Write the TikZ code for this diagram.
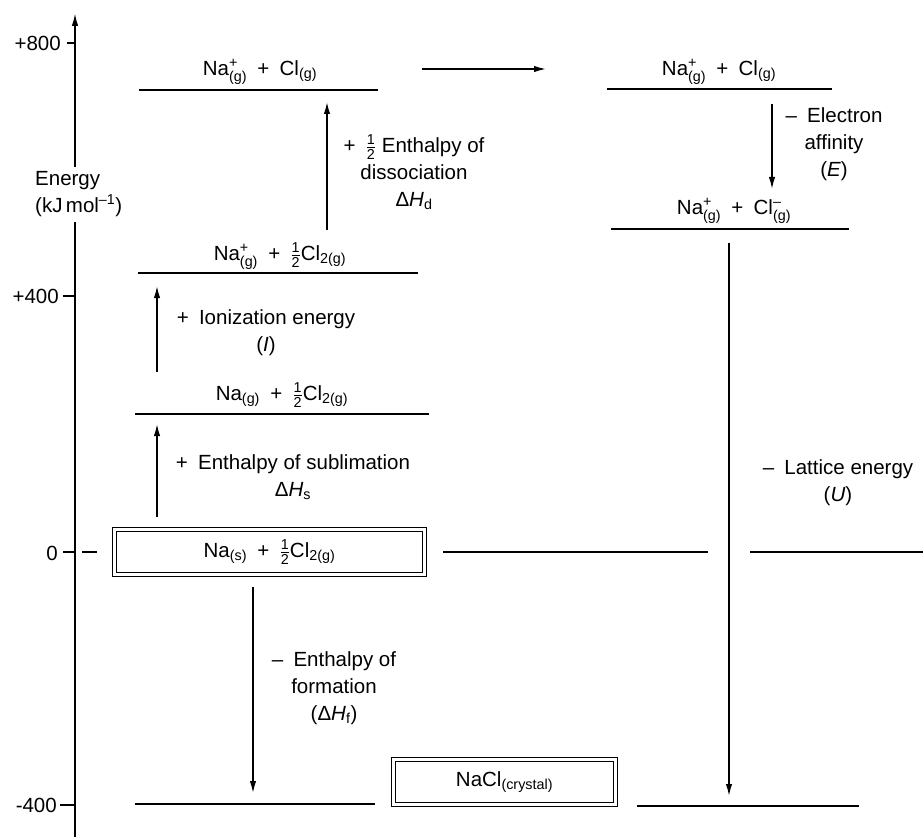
\documentclass[tikz,border=0pt]{standalone}
\usepackage{amsmath}
\usepackage{fontspec}
\setmainfont{Liberation Sans}
\usetikzlibrary{arrows.meta}
\newcommand{\hf}{\tfrac{\text{1}}{\text{2}}}
\newcommand{\gs}[1]{$_{\text{#1}}$}
\newcommand{\ionp}{$^{\text{+}}_{\text{(g)}}$}
\newcommand{\ionm}{$^{\text{--}}_{\text{(g)}}$}
\newcommand{\pl}{\enspace+\enspace}
\begin{document}
\begin{tikzpicture}[x=1pt,y=-1pt,
  every node/.style={font=\fontsize{20.5}{27}\selectfont, inner sep=0pt, align=center},
  level/.style={line width=1.8pt},
  arr/.style={line width=1.6pt, -{Latex[length=12pt,width=6.5pt]}},
  axisline/.style={line width=1.8pt},
  box/.style={draw, line width=1.2pt, double, double distance=2.5pt, inner sep=0pt}]
\useasboundingbox (0,0) rectangle (923,837);
\fill[white] (0,0) rectangle (923,837);

% axis
\coordinate (ax0) at (75,13);
\coordinate (ax1) at (75,167);
\coordinate (ax2) at (75,222);
\coordinate (ax3) at (75,837);
\draw[axisline, -{Latex[length=13pt,width=6.5pt]}] (ax1) -- (ax0);
\draw[axisline] (ax2) -- (ax3);
\node[anchor=west, align=left] (elab) at (35,194) {Energy\\(kJ\,mol$^{\text{--1}}$)};

% ticks
\coordinate (t8a) at (67,43); \coordinate (t8b) at (75,43);
\coordinate (t4a) at (63,296); \coordinate (t4b) at (75,296);
\coordinate (t0a) at (63,552); \coordinate (t0b) at (75,552);
\coordinate (tma) at (60,805); \coordinate (tmb) at (75,805);
\draw[axisline] (t8a) -- (t8b);
\draw[axisline] (t4a) -- (t4b);
\draw[axisline] (t0a) -- (t0b);
\draw[axisline] (tma) -- (tmb);
\node[anchor=east] (n800) at (61,43) {+800};
\node[anchor=east] (n400) at (59,296) {+400};
\node[anchor=east] (n0) at (58,553) {0};
\node[anchor=east] (nm400) at (57,805) {-400};

% level 1 left: Na+ + Cl
\coordinate (l1a) at (139,90); \coordinate (l1b) at (378,90);
\draw[level] (l1a) -- (l1b);
\node (L1) at (260,72) {Na\ionp\pl Cl\gs{(g)}};

% level 1 right
\coordinate (r1a) at (607,89); \coordinate (r1b) at (832,89);
\draw[level] (r1a) -- (r1b);
\node (R1) at (719,72) {Na\ionp\pl Cl\gs{(g)}};

% horizontal arrow
\coordinate (h1) at (422,69); \coordinate (h2) at (546,69);
\draw[arr] (h1) -- (h2);

% level 2 right: Na+ + Cl-
\coordinate (r2a) at (611,229); \coordinate (r2b) at (849,229);
\draw[level] (r2a) -- (r2b);
\node (R2) at (734,211) {Na\ionp\pl Cl\ionm};

% electron affinity
\coordinate (ea1) at (772,104); \coordinate (ea2) at (772,189);
\draw[arr] (ea1) -- (ea2);
\node (EA) at (834,144) {--\enspace Electron\\affinity\\(\textit{E})};

% level 2 left: Na+ + 1/2 Cl2
\coordinate (l2a) at (138,273); \coordinate (l2b) at (418,273);
\draw[level] (l2a) -- (l2b);
\node (L2) at (280,256) {Na\ionp\pl$\hf$Cl\gs{2(g)}};

% dissociation
\coordinate (d1) at (327,230); \coordinate (d2) at (327,102);
\draw[arr] (d1) -- (d2);
\node (DIS) at (414,172) {+\enspace$\hf$ Enthalpy of\\dissociation\\Δ\textit{H}\gs{d}};

% ionization
\coordinate (i1) at (157,372); \coordinate (i2) at (157,286);
\draw[arr] (i1) -- (i2);
\node (ION) at (266,333) {+\enspace Ionization energy\\(\textit{I})};

% level 3: Na(g) + 1/2 Cl2
\coordinate (l3a) at (135,414); \coordinate (l3b) at (429,414);
\draw[level] (l3a) -- (l3b);
\node (L3) at (282,395) {Na\gs{(g)}\pl$\hf$Cl\gs{2(g)}};

% sublimation
\coordinate (s1) at (157,517); \coordinate (s2) at (157,424);
\draw[arr] (s1) -- (s2);
\node (SUB) at (293,477) {+\enspace Enthalpy of sublimation\\Δ\textit{H}\gs{s}};

% zero-level box
\node[box, minimum width=310pt, minimum height=45pt] (B0) at (269.5,552) {Na\gs{(s)}\pl$\hf$Cl\gs{2(g)}};
\coordinate (z1) at (82,552); \coordinate (z2) at (97,552);
\draw[axisline] (z1) -- (z2);
\coordinate (z3) at (443,552); \coordinate (z4) at (708,552);
\draw[level] (z3) -- (z4);
\coordinate (z5) at (750,552); \coordinate (z6) at (923,552);
\draw[level] (z5) -- (z6);

% lattice energy
\coordinate (u1) at (729,243); \coordinate (u2) at (729,796);
\draw[arr] (u1) -- (u2);
\node (LAT) at (838,483) {--\enspace Lattice energy\\(\textit{U})};

% formation
\coordinate (f1) at (253,587); \coordinate (f2) at (253,793);
\draw[arr] (f1) -- (f2);
\node (FOR) at (334,688) {--\enspace Enthalpy of\\formation\\(Δ\textit{H}\gs{f})};

% bottom level
\coordinate (b1) at (135,804); \coordinate (b2) at (375,804);
\draw[level] (b1) -- (b2);
\node[box, minimum width=222pt, minimum height=45pt] (B1) at (504.5,782) {NaCl\gs{(crystal)}};
\coordinate (b3) at (637,806); \coordinate (b4) at (859,806);
\draw[level] (b3) -- (b4);
\end{tikzpicture}
\end{document}
